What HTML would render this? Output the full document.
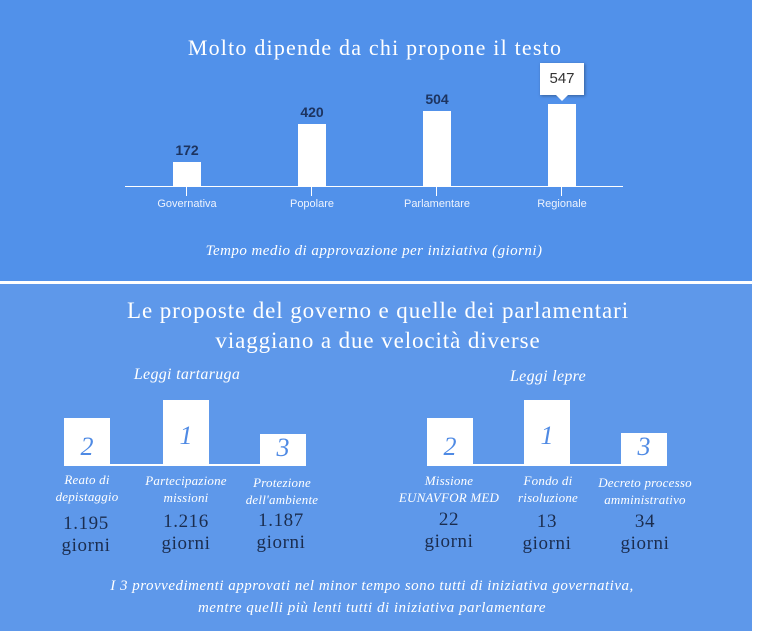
<!DOCTYPE html>
<html><head><meta charset="utf-8"><style>
body{margin:0;width:761px;height:631px;background:#fff;position:relative;overflow:hidden;font-family:"Liberation Serif",serif}
.a{position:absolute}
.top{left:0;top:0;width:752px;height:281px;background:#5191ea}
.bot{left:0;top:284px;width:752px;height:347px;background:#5e98ea}
.c{position:absolute;text-align:center;transform:translateX(-50%);white-space:nowrap}
.bar{position:absolute;background:#fff}
.tk{font-family:"Liberation Sans",sans-serif;font-size:11px;color:#eef3fd}
.v{font-family:"Liberation Sans",sans-serif;font-size:14px;font-weight:bold;color:#1d3460}
.n{font-size:26px;color:#4f8ae4;text-align:center;position:absolute;font-style:italic}
.lb{font-style:italic;font-size:13px;color:#fff;line-height:17px;letter-spacing:.2px}
.g{font-size:19px;color:#1b2d4f;line-height:22px;letter-spacing:.6px}
</style></head><body>
<div class="a top"></div><div class="a bot"></div>
<div class="c" style="left:375px;top:35px;font-size:22px;letter-spacing:1.2px;color:#fff">Molto dipende da chi propone il testo</div>
<div class="a" style="left:125px;top:186px;width:498px;height:1px;background:#fff"></div>
<div class="bar" style="left:173px;top:162px;width:28px;height:25px"></div>
<div class="bar" style="left:298px;top:124px;width:28px;height:63px"></div>
<div class="bar" style="left:423px;top:111px;width:28px;height:76px"></div>
<div class="bar" style="left:548px;top:104px;width:28px;height:83px"></div>
<div class="a" style="left:186px;top:187px;width:1px;height:9px;background:#fff"></div>
<div class="a" style="left:311px;top:187px;width:1px;height:9px;background:#fff"></div>
<div class="a" style="left:436px;top:187px;width:1px;height:9px;background:#fff"></div>
<div class="a" style="left:561px;top:187px;width:1px;height:9px;background:#fff"></div>
<div class="c tk" style="left:187px;top:198px">Governativa</div>
<div class="c tk" style="left:312px;top:198px">Popolare</div>
<div class="c tk" style="left:437px;top:198px">Parlamentare</div>
<div class="c tk" style="left:562px;top:198px">Regionale</div>
<div class="c v" style="left:187px;top:142px">172</div>
<div class="c v" style="left:312px;top:104px">420</div>
<div class="c v" style="left:437px;top:91px">504</div>
<div class="a" style="left:540px;top:63px;width:44px;height:32px;background:#fff;box-shadow:1px 1px 3px rgba(0,0,0,.35);font-family:'Liberation Sans',sans-serif;font-size:15px;color:#333;text-align:center;line-height:32px">547</div>
<div class="a" style="left:556px;top:95px;width:0;height:0;border-left:6px solid transparent;border-right:6px solid transparent;border-top:6px solid #fff"></div>
<div class="c" style="left:374px;top:243px;font-size:15px;letter-spacing:.45px;font-style:italic;color:#fff">Tempo medio di approvazione per iniziativa (giorni)</div>

<div class="c" style="left:378px;top:296px;font-size:23px;letter-spacing:.9px;color:#fff;line-height:30px;text-align:center">Le proposte del governo e quelle dei parlamentari<br>viaggiano a due velocità diverse</div>
<div class="c" style="left:187px;top:366px;font-size:16px;letter-spacing:.3px;font-style:italic;color:#fff">Leggi tartaruga</div>
<div class="c" style="left:548px;top:368px;font-size:16px;letter-spacing:.3px;font-style:italic;color:#fff">Leggi lepre</div>

<div class="a" style="left:110px;top:464px;width:150px;height:2px;background:#fff"></div>
<div class="bar" style="left:64px;top:418px;width:46px;height:48px"></div>
<div class="bar" style="left:163px;top:400px;width:46px;height:66px"></div>
<div class="bar" style="left:260px;top:434px;width:46px;height:32px"></div>
<div class="n" style="left:64px;top:432px;width:46px">2</div>
<div class="n" style="left:163px;top:421px;width:46px">1</div>
<div class="n" style="left:260px;top:433px;width:46px">3</div>
<div class="c lb" style="left:87px;top:471px">Reato di<br>depistaggio</div>
<div class="c lb" style="left:186px;top:472px">Partecipazione<br>missioni</div>
<div class="c lb" style="left:282px;top:474px">Protezione<br>dell'ambiente</div>
<div class="c g" style="left:86px;top:513px">1.195<br>giorni</div>
<div class="c g" style="left:186px;top:511px">1.216<br>giorni</div>
<div class="c g" style="left:281px;top:510px">1.187<br>giorni</div>

<div class="a" style="left:473px;top:464px;width:150px;height:2px;background:#fff"></div>
<div class="bar" style="left:427px;top:418px;width:46px;height:48px"></div>
<div class="bar" style="left:524px;top:400px;width:46px;height:66px"></div>
<div class="bar" style="left:621px;top:433px;width:46px;height:33px"></div>
<div class="n" style="left:427px;top:432px;width:46px">2</div>
<div class="n" style="left:524px;top:421px;width:46px">1</div>
<div class="n" style="left:621px;top:432px;width:46px">3</div>
<div class="c lb" style="left:449px;top:472px">Missione<br>EUNAVFOR MED</div>
<div class="c lb" style="left:548px;top:472px">Fondo di<br>risoluzione</div>
<div class="c lb" style="left:645px;top:474px">Decreto processo<br>amministrativo</div>
<div class="c g" style="left:449px;top:509px">22<br>giorni</div>
<div class="c g" style="left:547px;top:511px">13<br>giorni</div>
<div class="c g" style="left:645px;top:511px">34<br>giorni</div>

<div class="c" style="left:372px;top:575px;font-size:15px;letter-spacing:.5px;font-style:italic;color:#fff;line-height:22px;text-align:center">I 3 provvedimenti approvati nel minor tempo sono tutti di iniziativa governativa,<br>mentre quelli più lenti tutti di iniziativa parlamentare</div>
</body></html>
